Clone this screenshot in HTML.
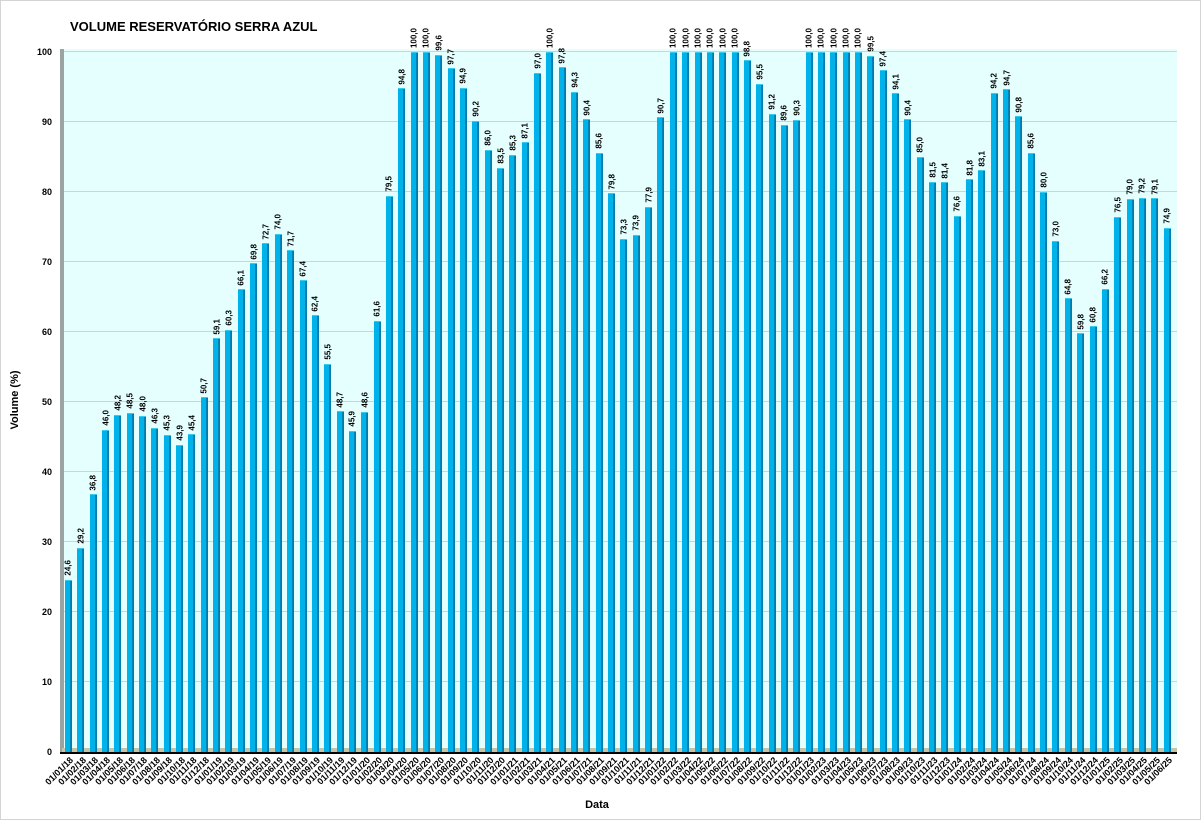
<!DOCTYPE html>
<html><head><meta charset="utf-8"><style>
body{margin:0;width:1201px;height:820px;background:#fff;position:relative;overflow:hidden;font-family:"Liberation Sans",sans-serif}
.frame{position:absolute;left:0;top:0;width:1199px;height:818px;border:1px solid #d4d4d4}
.title{position:absolute;left:70px;top:19px;font-weight:bold;font-size:13px;color:#000}
.plot{position:absolute;left:62px;top:49px;width:1115px;height:703px;background:#e5ffff}
.wall{position:absolute;left:60px;top:49px;width:4px;height:703px;background:#9ba3a3}
.floor{position:absolute;left:62px;top:748px;width:1115px;height:4px;background:#c8c4a8}
.axis{position:absolute;left:60px;top:752px;width:1117px;height:2px;background:#000}
.grid{position:absolute;left:64px;width:1113px;height:1px;background:#cfd3d6}
.yl{position:absolute;right:1149px;font-size:9px;font-weight:bold;transform:translateY(-50%)}
.cols{position:absolute;left:62.3px;top:52px;width:1111.5px;height:700px;display:flex}
.c{flex:1;position:relative}
.b{position:absolute;bottom:0;left:50%;margin-left:-3.5px;width:7px;height:calc(var(--v)*7px);background:linear-gradient(to right,#00b2ea 0,#00b2ea 68%,#0086b8 70%,#0078a8 100%);border-top:1px solid #38c8f0;box-sizing:border-box}
.v{position:absolute;left:50%;bottom:calc(var(--v)*7px + 4px);writing-mode:vertical-rl;transform:translateX(-50%) rotate(180deg);font-size:8px;font-weight:bold;white-space:nowrap;line-height:9px}
.d{position:absolute;top:703px;right:50%;font-size:9px;font-weight:bold;white-space:nowrap;transform-origin:right top;transform:rotate(-45deg);line-height:10px}
.xt{position:absolute;left:597px;top:799px;font-size:11px;font-weight:bold;transform:translateX(-50%)}
.yt{position:absolute;left:15px;top:400px;font-size:11px;font-weight:bold;transform:translate(-50%,-50%) rotate(-90deg);white-space:nowrap}
</style></head><body>
<div class="frame"></div>
<div class="title">VOLUME RESERVATÓRIO SERRA AZUL</div>
<div class="plot"></div>
<div class="grid" style="top:51px"></div><div class="grid" style="top:121px"></div><div class="grid" style="top:191px"></div><div class="grid" style="top:261px"></div><div class="grid" style="top:331px"></div><div class="grid" style="top:401px"></div><div class="grid" style="top:471px"></div><div class="grid" style="top:541px"></div><div class="grid" style="top:611px"></div><div class="grid" style="top:681px"></div>
<div class="wall"></div><div class="floor"></div><div class="axis"></div>
<div class="yl" style="top:52px">100</div><div class="yl" style="top:122px">90</div><div class="yl" style="top:192px">80</div><div class="yl" style="top:262px">70</div><div class="yl" style="top:332px">60</div><div class="yl" style="top:402px">50</div><div class="yl" style="top:472px">40</div><div class="yl" style="top:542px">30</div><div class="yl" style="top:612px">20</div><div class="yl" style="top:682px">10</div><div class="yl" style="top:752px">0</div>
<div class="yt">Volume (%)</div>
<div class="xt">Data</div>
<div class="cols">
<div class="c" style="--v:24.6"><div class="b"></div><div class="v">24,6</div><div class="d">01/01/18</div></div>
<div class="c" style="--v:29.2"><div class="b"></div><div class="v">29,2</div><div class="d">01/02/18</div></div>
<div class="c" style="--v:36.8"><div class="b"></div><div class="v">36,8</div><div class="d">01/03/18</div></div>
<div class="c" style="--v:46.0"><div class="b"></div><div class="v">46,0</div><div class="d">01/04/18</div></div>
<div class="c" style="--v:48.2"><div class="b"></div><div class="v">48,2</div><div class="d">01/05/18</div></div>
<div class="c" style="--v:48.5"><div class="b"></div><div class="v">48,5</div><div class="d">01/06/18</div></div>
<div class="c" style="--v:48.0"><div class="b"></div><div class="v">48,0</div><div class="d">01/07/18</div></div>
<div class="c" style="--v:46.3"><div class="b"></div><div class="v">46,3</div><div class="d">01/08/18</div></div>
<div class="c" style="--v:45.3"><div class="b"></div><div class="v">45,3</div><div class="d">01/09/18</div></div>
<div class="c" style="--v:43.9"><div class="b"></div><div class="v">43,9</div><div class="d">01/10/18</div></div>
<div class="c" style="--v:45.4"><div class="b"></div><div class="v">45,4</div><div class="d">01/11/18</div></div>
<div class="c" style="--v:50.7"><div class="b"></div><div class="v">50,7</div><div class="d">01/12/18</div></div>
<div class="c" style="--v:59.1"><div class="b"></div><div class="v">59,1</div><div class="d">01/01/19</div></div>
<div class="c" style="--v:60.3"><div class="b"></div><div class="v">60,3</div><div class="d">01/02/19</div></div>
<div class="c" style="--v:66.1"><div class="b"></div><div class="v">66,1</div><div class="d">01/03/19</div></div>
<div class="c" style="--v:69.8"><div class="b"></div><div class="v">69,8</div><div class="d">01/04/19</div></div>
<div class="c" style="--v:72.7"><div class="b"></div><div class="v">72,7</div><div class="d">01/05/19</div></div>
<div class="c" style="--v:74.0"><div class="b"></div><div class="v">74,0</div><div class="d">01/06/19</div></div>
<div class="c" style="--v:71.7"><div class="b"></div><div class="v">71,7</div><div class="d">01/07/19</div></div>
<div class="c" style="--v:67.4"><div class="b"></div><div class="v">67,4</div><div class="d">01/08/19</div></div>
<div class="c" style="--v:62.4"><div class="b"></div><div class="v">62,4</div><div class="d">01/09/19</div></div>
<div class="c" style="--v:55.5"><div class="b"></div><div class="v">55,5</div><div class="d">01/10/19</div></div>
<div class="c" style="--v:48.7"><div class="b"></div><div class="v">48,7</div><div class="d">01/11/19</div></div>
<div class="c" style="--v:45.9"><div class="b"></div><div class="v">45,9</div><div class="d">01/12/19</div></div>
<div class="c" style="--v:48.6"><div class="b"></div><div class="v">48,6</div><div class="d">01/01/20</div></div>
<div class="c" style="--v:61.6"><div class="b"></div><div class="v">61,6</div><div class="d">01/02/20</div></div>
<div class="c" style="--v:79.5"><div class="b"></div><div class="v">79,5</div><div class="d">01/03/20</div></div>
<div class="c" style="--v:94.8"><div class="b"></div><div class="v">94,8</div><div class="d">01/04/20</div></div>
<div class="c" style="--v:100"><div class="b"></div><div class="v">100,0</div><div class="d">01/05/20</div></div>
<div class="c" style="--v:100"><div class="b"></div><div class="v">100,0</div><div class="d">01/06/20</div></div>
<div class="c" style="--v:99.6"><div class="b"></div><div class="v">99,6</div><div class="d">01/07/20</div></div>
<div class="c" style="--v:97.7"><div class="b"></div><div class="v">97,7</div><div class="d">01/08/20</div></div>
<div class="c" style="--v:94.9"><div class="b"></div><div class="v">94,9</div><div class="d">01/09/20</div></div>
<div class="c" style="--v:90.2"><div class="b"></div><div class="v">90,2</div><div class="d">01/10/20</div></div>
<div class="c" style="--v:86.0"><div class="b"></div><div class="v">86,0</div><div class="d">01/11/20</div></div>
<div class="c" style="--v:83.5"><div class="b"></div><div class="v">83,5</div><div class="d">01/12/20</div></div>
<div class="c" style="--v:85.3"><div class="b"></div><div class="v">85,3</div><div class="d">01/01/21</div></div>
<div class="c" style="--v:87.1"><div class="b"></div><div class="v">87,1</div><div class="d">01/02/21</div></div>
<div class="c" style="--v:97.0"><div class="b"></div><div class="v">97,0</div><div class="d">01/03/21</div></div>
<div class="c" style="--v:100"><div class="b"></div><div class="v">100,0</div><div class="d">01/04/21</div></div>
<div class="c" style="--v:97.8"><div class="b"></div><div class="v">97,8</div><div class="d">01/05/21</div></div>
<div class="c" style="--v:94.3"><div class="b"></div><div class="v">94,3</div><div class="d">01/06/21</div></div>
<div class="c" style="--v:90.4"><div class="b"></div><div class="v">90,4</div><div class="d">01/07/21</div></div>
<div class="c" style="--v:85.6"><div class="b"></div><div class="v">85,6</div><div class="d">01/08/21</div></div>
<div class="c" style="--v:79.8"><div class="b"></div><div class="v">79,8</div><div class="d">01/09/21</div></div>
<div class="c" style="--v:73.3"><div class="b"></div><div class="v">73,3</div><div class="d">01/10/21</div></div>
<div class="c" style="--v:73.9"><div class="b"></div><div class="v">73,9</div><div class="d">01/11/21</div></div>
<div class="c" style="--v:77.9"><div class="b"></div><div class="v">77,9</div><div class="d">01/12/21</div></div>
<div class="c" style="--v:90.7"><div class="b"></div><div class="v">90,7</div><div class="d">01/01/22</div></div>
<div class="c" style="--v:100"><div class="b"></div><div class="v">100,0</div><div class="d">01/02/22</div></div>
<div class="c" style="--v:100"><div class="b"></div><div class="v">100,0</div><div class="d">01/03/22</div></div>
<div class="c" style="--v:100"><div class="b"></div><div class="v">100,0</div><div class="d">01/04/22</div></div>
<div class="c" style="--v:100"><div class="b"></div><div class="v">100,0</div><div class="d">01/05/22</div></div>
<div class="c" style="--v:100"><div class="b"></div><div class="v">100,0</div><div class="d">01/06/22</div></div>
<div class="c" style="--v:100"><div class="b"></div><div class="v">100,0</div><div class="d">01/07/22</div></div>
<div class="c" style="--v:98.8"><div class="b"></div><div class="v">98,8</div><div class="d">01/08/22</div></div>
<div class="c" style="--v:95.5"><div class="b"></div><div class="v">95,5</div><div class="d">01/09/22</div></div>
<div class="c" style="--v:91.2"><div class="b"></div><div class="v">91,2</div><div class="d">01/10/22</div></div>
<div class="c" style="--v:89.6"><div class="b"></div><div class="v">89,6</div><div class="d">01/11/22</div></div>
<div class="c" style="--v:90.3"><div class="b"></div><div class="v">90,3</div><div class="d">01/12/22</div></div>
<div class="c" style="--v:100"><div class="b"></div><div class="v">100,0</div><div class="d">01/01/23</div></div>
<div class="c" style="--v:100"><div class="b"></div><div class="v">100,0</div><div class="d">01/02/23</div></div>
<div class="c" style="--v:100"><div class="b"></div><div class="v">100,0</div><div class="d">01/03/23</div></div>
<div class="c" style="--v:100"><div class="b"></div><div class="v">100,0</div><div class="d">01/04/23</div></div>
<div class="c" style="--v:100"><div class="b"></div><div class="v">100,0</div><div class="d">01/05/23</div></div>
<div class="c" style="--v:99.5"><div class="b"></div><div class="v">99,5</div><div class="d">01/06/23</div></div>
<div class="c" style="--v:97.4"><div class="b"></div><div class="v">97,4</div><div class="d">01/07/23</div></div>
<div class="c" style="--v:94.1"><div class="b"></div><div class="v">94,1</div><div class="d">01/08/23</div></div>
<div class="c" style="--v:90.4"><div class="b"></div><div class="v">90,4</div><div class="d">01/09/23</div></div>
<div class="c" style="--v:85.0"><div class="b"></div><div class="v">85,0</div><div class="d">01/10/23</div></div>
<div class="c" style="--v:81.5"><div class="b"></div><div class="v">81,5</div><div class="d">01/11/23</div></div>
<div class="c" style="--v:81.4"><div class="b"></div><div class="v">81,4</div><div class="d">01/12/23</div></div>
<div class="c" style="--v:76.6"><div class="b"></div><div class="v">76,6</div><div class="d">01/01/24</div></div>
<div class="c" style="--v:81.8"><div class="b"></div><div class="v">81,8</div><div class="d">01/02/24</div></div>
<div class="c" style="--v:83.1"><div class="b"></div><div class="v">83,1</div><div class="d">01/03/24</div></div>
<div class="c" style="--v:94.2"><div class="b"></div><div class="v">94,2</div><div class="d">01/04/24</div></div>
<div class="c" style="--v:94.7"><div class="b"></div><div class="v">94,7</div><div class="d">01/05/24</div></div>
<div class="c" style="--v:90.8"><div class="b"></div><div class="v">90,8</div><div class="d">01/06/24</div></div>
<div class="c" style="--v:85.6"><div class="b"></div><div class="v">85,6</div><div class="d">01/07/24</div></div>
<div class="c" style="--v:80.0"><div class="b"></div><div class="v">80,0</div><div class="d">01/08/24</div></div>
<div class="c" style="--v:73.0"><div class="b"></div><div class="v">73,0</div><div class="d">01/09/24</div></div>
<div class="c" style="--v:64.8"><div class="b"></div><div class="v">64,8</div><div class="d">01/10/24</div></div>
<div class="c" style="--v:59.8"><div class="b"></div><div class="v">59,8</div><div class="d">01/11/24</div></div>
<div class="c" style="--v:60.8"><div class="b"></div><div class="v">60,8</div><div class="d">01/12/24</div></div>
<div class="c" style="--v:66.2"><div class="b"></div><div class="v">66,2</div><div class="d">01/01/25</div></div>
<div class="c" style="--v:76.5"><div class="b"></div><div class="v">76,5</div><div class="d">01/02/25</div></div>
<div class="c" style="--v:79.0"><div class="b"></div><div class="v">79,0</div><div class="d">01/03/25</div></div>
<div class="c" style="--v:79.2"><div class="b"></div><div class="v">79,2</div><div class="d">01/04/25</div></div>
<div class="c" style="--v:79.1"><div class="b"></div><div class="v">79,1</div><div class="d">01/05/25</div></div>
<div class="c" style="--v:74.9"><div class="b"></div><div class="v">74,9</div><div class="d">01/06/25</div></div>
</div>
</body></html>
